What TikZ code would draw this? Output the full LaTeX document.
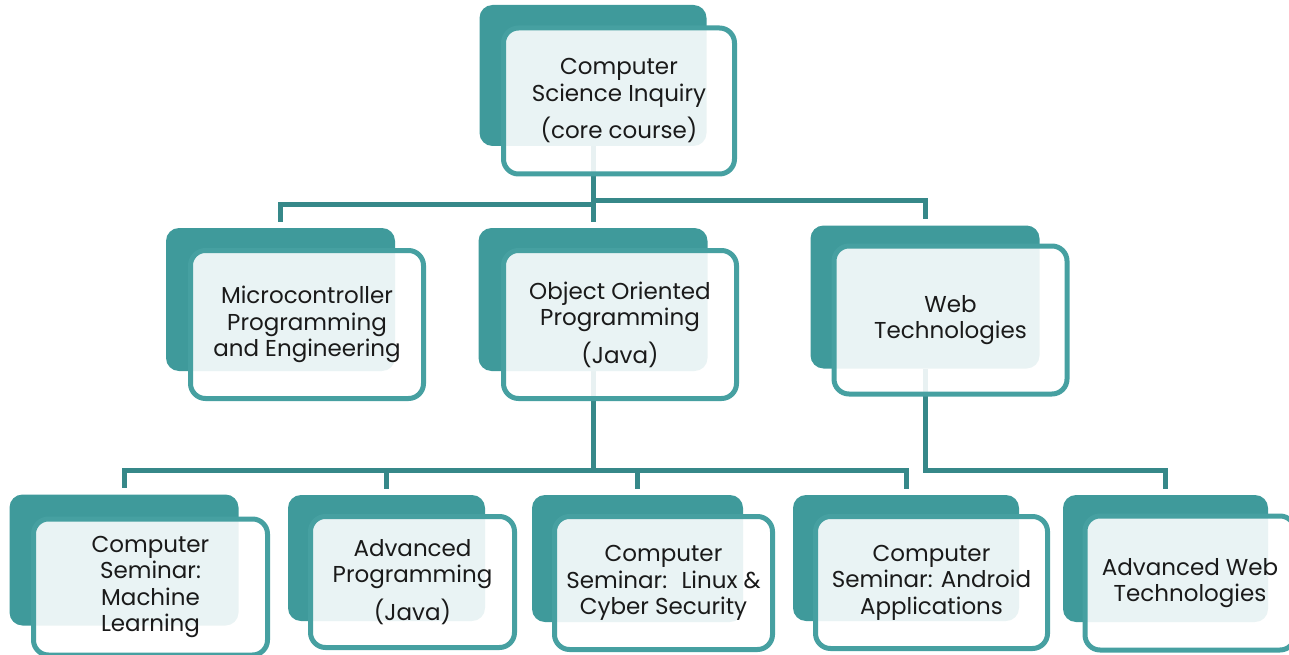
\documentclass[tikz,border=0pt]{standalone}
\usepackage{fontspec}
\setmainfont{Poppins}
\usetikzlibrary{backgrounds}

\definecolor{tealback}{HTML}{3F9A9B}
\definecolor{tealline}{HTML}{46A0A1}
\definecolor{tealconn}{HTML}{368889}
\definecolor{inktext}{HTML}{1A1A1A}

\tikzset{
  backbox/.style={fill=tealback, draw=none, rounded corners=13pt, inner sep=0pt},
  frontbox/.style={draw=tealline, line width=5pt, fill=white, fill opacity=0.89,
    text opacity=1, rounded corners=15pt, inner sep=0pt, align=center,
    text=inktext, font=\fontsize{23}{26.5}\selectfont},
  conn/.style={draw=tealconn, line width=5pt},
}

\begin{document}
\begin{tikzpicture}[x=1pt, y=-1pt]
  \useasboundingbox (0,0) rectangle (1289,655);
  \clip (0,0) rectangle (1289,655);

  % top level
  \node[backbox, minimum width=227pt, minimum height=141pt] (rootB) at (593,75.5) {};
  \node[frontbox, minimum width=231pt, minimum height=146pt] (root) at (619,101)
    {Computer\\Science Inquiry\\[9pt](core course)};

  % second level
  \node[backbox, minimum width=229pt, minimum height=143pt] (microB) at (280.5,299.5) {};
  \node[frontbox, minimum width=233pt, minimum height=148pt] (micro) at (307,324.5)
    {Microcontroller\\Programming\\and Engineering};

  \node[backbox, minimum width=229pt, minimum height=143pt] (oopB) at (593,299.5) {};
  \node[frontbox, minimum width=233pt, minimum height=148pt] (oop) at (620,324.5)
    {Object Oriented\\Programming\\[9pt](Java)};

  \node[backbox, minimum width=229pt, minimum height=143pt] (webB) at (925,297) {};
  \node[frontbox, minimum width=233pt, minimum height=148pt] (web) at (950.5,320)
    {Web\\Technologies};

  % third level
  \node[backbox, minimum width=229pt, minimum height=131pt] (mlB) at (124,560) {};
  \node[frontbox, minimum width=234pt, minimum height=136pt] (ml) at (150.5,587)
    {Computer\\Seminar:\\Machine\\Learning};

  \node[backbox, minimum width=197pt, minimum height=126pt] (advB) at (386.5,558) {};
  \node[frontbox, minimum width=204pt, minimum height=131pt] (adv) at (412.5,582)
    {Advanced\\Programming\\[9pt](Java)};

  \node[backbox, minimum width=211pt, minimum height=127pt] (linB) at (637.5,558.5) {};
  \node[frontbox, minimum width=218pt, minimum height=133pt] (lin) at (663.5,583)
    {Computer\\Seminar:~ Linux \&\\Cyber Security};

  \node[backbox, minimum width=226pt, minimum height=126pt] (andB) at (906,558) {};
  \node[frontbox, minimum width=232pt, minimum height=132pt] (and) at (931.5,582.5)
    {Computer\\Seminar: Android\\Applications};

  \node[backbox, minimum width=205pt, minimum height=127pt] (awB) at (1165.5,558.5) {};
  \node[frontbox, minimum width=210pt, minimum height=134pt] (aw) at (1190,583)
    {Advanced Web\\Technologies};

  % connectors, kept beneath the boxes
  \begin{scope}[on background layer]
    \coordinate (busA) at (0,204);
    \coordinate (busB) at (0,200);
    \coordinate (busC) at (0,470);

    \draw[conn] (rootB.south) -- (rootB.south |- busA) -| ([yshift=6pt]microB.north);
    \draw[conn] (rootB.south) -- ([yshift=6pt]oopB.north);
    \draw[conn] (rootB.south) -- (rootB.south |- busB) -| ([yshift=6pt]webB.north);

    \draw[conn] (oopB.south) -- (oopB.south |- busC) -| ([yshift=6pt]mlB.north);
    \draw[conn] (oopB.south) -- (oopB.south |- busC) -| ([yshift=6pt]advB.north);
    \draw[conn] (oopB.south) -- (oopB.south |- busC) -| ([yshift=6pt]linB.north);
    \draw[conn] (oopB.south) -- (oopB.south |- busC) -| ([yshift=6pt]andB.north);

    \draw[conn] (webB.south) -- (webB.south |- busC) -| ([yshift=6pt]awB.north);
  \end{scope}
\end{tikzpicture}
\end{document}
